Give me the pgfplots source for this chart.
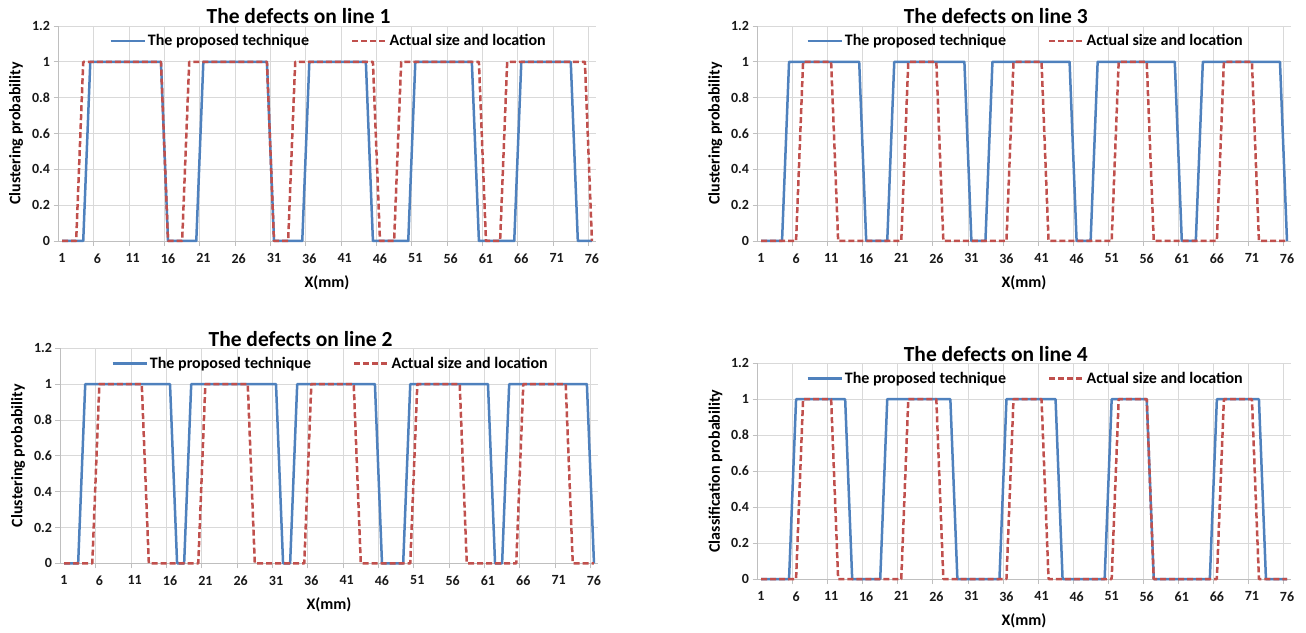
\documentclass[border=0pt]{standalone}
\usepackage{fontspec}
\setmainfont{Carlito}
\usepackage{pgfplots}
\pgfplotsset{compat=1.18}
\definecolor{exblue}{HTML}{4F81BD}
\definecolor{exred}{HTML}{C0504D}
\definecolor{gridc}{HTML}{D9D9D9}
\definecolor{axc}{HTML}{BFBFBF}
\pgfplotsset{
  panel/.style={
    scale only axis, width=537pt, height=215pt,
    xmin=0.5, xmax=76.5, ymin=0, ymax=1.2,
    axis lines*=left,
    axis line style={draw=axc, line width=0.8pt, -},
    every outer x axis line/.append style={-},
    every outer y axis line/.append style={-},
    xtick={1,6,...,76},
    minor xtick={5.5,10.5,...,75.5},
    ytick={0,0.2,0.4,0.6,0.8,1,1.2},
    ymajorgrids, xminorgrids,
    major grid style={draw=gridc, line width=0.8pt},
    minor grid style={draw=gridc, line width=0.8pt},
    tick align=outside,
    major tick length=5pt, minor tick length=5pt,
    tick style={draw=axc, line width=0.8pt},
    major x tick style={draw=none},
    /pgf/number format/assume math mode=true,
    tick label style={font=\bfseries\fontsize{14}{16}\selectfont, text=black!90},
    xticklabel style={yshift=-4pt},
    xlabel={X(mm)},
    every axis x label/.style={at={(axis description cs:0.5,-0.192)}, anchor=center, font=\bfseries\fontsize{16}{19}\selectfont},
    every axis y label/.style={at={(axis description cs:-0.079,0.5)}, rotate=90, anchor=center, font=\bfseries\fontsize{16}{19}\selectfont},
    every axis title/.style={at={(axis description cs:0.447,1.044)}, anchor=center, font=\bfseries\fontsize{21.5}{25}\selectfont},
    legend columns=2,
    legend cell align=left,
    legend style={draw=none, fill=none, at={(axis description cs:0.503,0.93)}, anchor=center,
      font=\bfseries\fontsize{16}{19}\selectfont,
      /tikz/every even column/.append style={column sep=40pt}},
    legend image code/.code={\draw[#1] (0pt,0pt) -- (34pt,0pt);},
    clip=false,
  },
  blueline/.style={exblue, line width=2.5pt, line join=round},
  redline/.style={exred, line width=2.5pt, line join=round, dash pattern=on 6pt off 3pt},
}
\begin{document}
\begin{tikzpicture}
\useasboundingbox (0,0) rectangle (1306pt,632pt);
% Line 1
\begin{axis}[panel, at={(58.5pt,391pt)}, anchor=south west,
  title={The defects on line 1}, ylabel={Clustering probability}]
\addplot[blueline] coordinates {(1,0)(4,0)(5,1)(15,1)(16,0)(20,0)(21,1)(30,1)(31,0)(35,0)(36,1)(44,1)(45,0)(50,0)(51,1)(59,1)(60,0)(65,0)(66,1)(73,1)(74,0)(76,0)};
\addplot[redline] coordinates {(1,0)(3,0)(4,1)(15,1)(16,0)(18,0)(19,1)(30,1)(31,0)(33,0)(34,1)(45,1)(46,0)(48,0)(49,1)(60,1)(61,0)(63,0)(64,1)(75,1)(76,0)};
\legend{The proposed technique, Actual size and location}
\end{axis}
% Line 3
\begin{axis}[panel, width=533pt, at={(757.5pt,391pt)}, anchor=south west,
  title={The defects on line 3}, ylabel={Clustering probability}]
\addplot[blueline] coordinates {(1,0)(4,0)(5,1)(15,1)(16,0)(19,0)(20,1)(30,1)(31,0)(33,0)(34,1)(45,1)(46,0)(48,0)(49,1)(60,1)(61,0)(63,0)(64,1)(75,1)(76,0)};
\addplot[redline] coordinates {(1,0)(6,0)(7,1)(11,1)(12,0)(21,0)(22,1)(26,1)(27,0)(36,0)(37,1)(41,1)(42,0)(51,0)(52,1)(56,1)(57,0)(66,0)(67,1)(71,1)(72,0)(76,0)};
\legend{The proposed technique, Actual size and location}
\end{axis}
% Line 2
\begin{axis}[panel, at={(60.5pt,68.7pt)}, anchor=south west,
  title={The defects on line 2}, ylabel={Clustering probability}]
\addplot[blueline] coordinates {(1,0)(3,0)(4,1)(16,1)(17,0)(18,0)(19,1)(31,1)(32,0)(33,0)(34,1)(45,1)(46,0)(49,0)(50,1)(61,1)(62,0)(63,0)(64,1)(75,1)(76,0)};
\addplot[redline] coordinates {(1,0)(5,0)(6,1)(12,1)(13,0)(20,0)(21,1)(27,1)(28,0)(35,0)(36,1)(42,1)(43,0)(50,0)(51,1)(57,1)(58,0)(65,0)(66,1)(72,1)(73,0)(76,0)};
\legend{The proposed technique, Actual size and location}
\end{axis}
% Line 4
\begin{axis}[panel, width=533pt, height=215.7pt, at={(757.5pt,53pt)}, anchor=south west,
  title={The defects on line 4}, ylabel={Classification probability}]
\addplot[blueline] coordinates {(1,0)(5,0)(6,1)(13,1)(14,0)(18,0)(19,1)(28,1)(29,0)(35,0)(36,1)(43,1)(44,0)(50,0)(51,1)(56,1)(57,0)(65,0)(66,1)(72,1)(73,0)(76,0)};
\addplot[redline] coordinates {(1,0)(6,0)(7,1)(11,1)(12,0)(21,0)(22,1)(26,1)(27,0)(36,0)(37,1)(41,1)(42,0)(51,0)(52,1)(56,1)(57,0)(66,0)(67,1)(71,1)(72,0)(76,0)};
\legend{The proposed technique, Actual size and location}
\end{axis}
\end{tikzpicture}
\end{document}
